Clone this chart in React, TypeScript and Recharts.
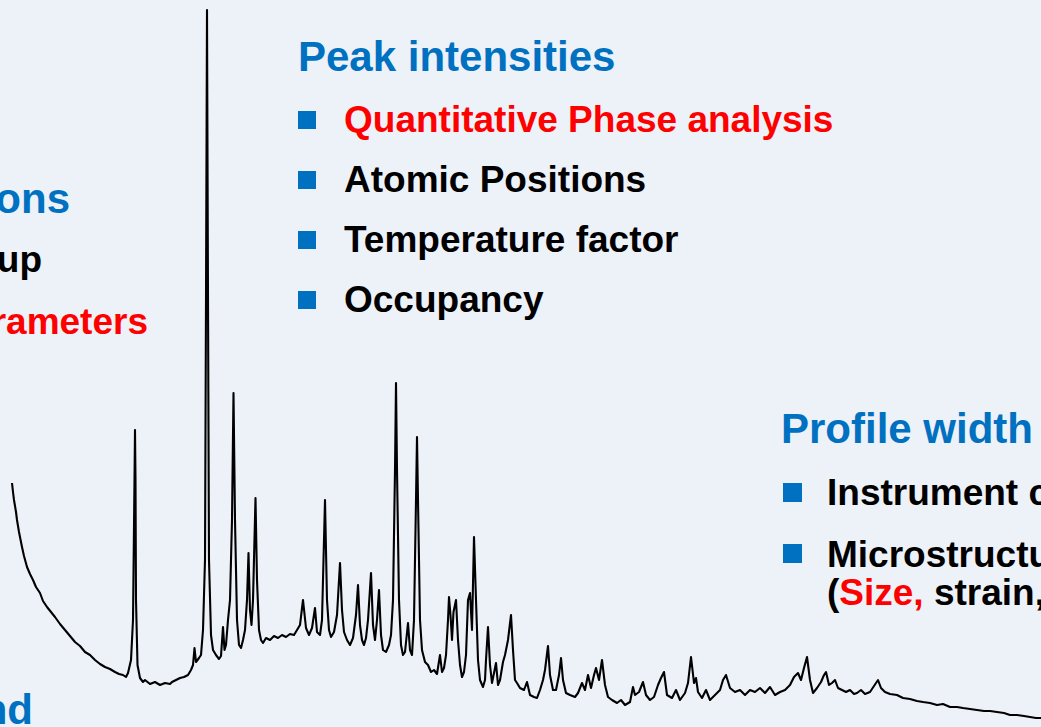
import React from "react";
import { LineChart, Line, XAxis, YAxis } from "recharts";

// Diffraction angle positions (arbitrary horizontal units across the scan)
const scanAngles: number[] = [
  12, 13, 14, 16, 17, 19, 22, 24, 27, 30,
  33, 36, 40, 43, 47, 51, 55, 60, 65, 70,
  75, 80, 85, 90, 95, 100, 105, 110, 115, 119,
  123, 126, 128, 131, 133, 134.5, 135, 135.5, 136, 137.5,
  140, 143, 145, 150, 155, 160, 165, 170, 172, 176,
  180, 184, 188, 191, 193, 194.5, 196, 199, 201, 203,
  205, 206, 207, 208, 209, 211, 213, 216, 219, 221,
  223, 224.5, 226, 228, 230, 232, 233.5, 235, 237, 239,
  241, 243, 245, 247, 248.5, 250, 251.5, 253, 255.5, 257,
  259, 261, 263, 266, 270, 274, 278, 282, 286, 290,
  294, 297, 300, 303, 306, 309, 312, 315, 317, 320,
  322, 325, 327, 329, 331, 334, 337, 340, 342, 344,
  347, 350, 353, 356, 358, 360, 362, 364, 366, 368,
  371, 373, 375, 377, 379, 381, 383, 386, 389, 391,
  393, 395, 396, 397, 399, 401, 403, 405, 408, 410,
  412, 414, 416, 417, 418, 420, 422, 425, 428, 431,
  434, 437, 440, 442, 444, 446, 448, 449, 450.5, 452,
  453.5, 456, 458, 460, 462, 464, 466, 468, 470, 472,
  474, 476, 478, 480, 483, 485, 486, 488, 490, 492,
  494, 496, 498, 500, 503, 505, 508, 511, 513, 515,
  517, 520, 524, 527, 530, 534, 537, 540, 543, 545,
  548, 550, 553, 556, 559, 561, 563, 566, 570, 575,
  578, 582, 585, 588, 591, 594, 596, 599, 602, 605,
  608, 612, 617, 621, 625, 630, 633, 635, 639, 643,
  646, 650, 654, 658, 661, 664, 667, 672, 676, 680,
  685, 688, 691, 694, 696, 698, 702, 706, 710, 715,
  720, 723, 726, 730, 735, 740, 745, 750, 755, 760,
  765, 770, 775, 780, 785, 790, 794, 798, 801, 804,
  807, 810, 813, 817, 821, 824, 826, 829, 832, 835,
  838, 842, 846, 850, 854, 857, 861, 865, 870, 874,
  878, 881, 885, 890, 897, 903, 910, 917, 923, 930,
  937, 943, 950, 957, 963, 970, 977, 984, 990, 997,
  1004, 1010, 1017, 1024, 1030, 1036, 1041,
];

// Measured intensity (arbitrary counts) at each angle
const scanCounts: number[] = [
  244, 235, 227, 215, 207, 195, 180, 171, 160, 153,
  147, 140, 134, 126, 120, 115, 110, 103, 97, 91,
  85, 81, 75, 72, 67, 63, 60, 58, 55, 53,
  52, 50, 54, 67, 107, 247, 297, 247, 127, 62,
  49, 45, 47, 43, 45, 42, 44, 43, 45, 47,
  49, 50, 52, 57, 62, 79, 65, 69, 72, 97,
  167, 427, 717, 427, 167, 92, 77, 72, 68, 71,
  100, 77, 82, 107, 127, 207, 334, 207, 107, 82,
  79, 87, 97, 127, 174, 117, 102, 127, 229, 147,
  97, 87, 84, 89, 87, 91, 89, 92, 90, 93,
  92, 97, 102, 127, 99, 92, 99, 119, 95, 92,
  107, 227, 127, 97, 90, 95, 112, 164, 117, 95,
  87, 82, 89, 112, 142, 102, 87, 82, 89, 107,
  154, 102, 87, 107, 137, 92, 77, 75, 82, 92,
  127, 257, 344, 257, 127, 82, 72, 75, 104, 77,
  72, 107, 227, 290, 227, 107, 77, 65, 62, 55,
  57, 53, 72, 55, 59, 72, 107, 130, 112, 87,
  115, 127, 87, 62, 50, 55, 72, 127, 134, 97,
  190, 127, 67, 47, 40, 47, 67, 100, 62, 44,
  54, 64, 42, 47, 65, 72, 87, 112, 77, 47,
  44, 39, 37, 45, 32, 30, 29, 37, 47, 57,
  81, 52, 37, 37, 52, 69, 47, 34, 32, 30,
  34, 44, 37, 52, 39, 52, 59, 47, 67, 42,
  30, 27, 24, 27, 22, 25, 40, 32, 35, 45,
  32, 27, 30, 42, 49, 55, 32, 29, 37, 27,
  34, 44, 70, 44, 49, 35, 29, 37, 27, 32,
  37, 47, 52, 39, 35, 37, 32, 37, 35, 39,
  34, 40, 32, 35, 37, 42, 50, 54, 47, 59,
  70, 47, 34, 39, 45, 52, 55, 42, 44, 47,
  39, 37, 35, 37, 33, 34, 37, 33, 35, 41,
  47, 39, 35, 33, 32, 29, 28, 26, 25, 24,
  22, 23, 20, 20, 19, 18, 17, 16, 16, 15,
  14, 12, 12, 11, 10, 9, 9,
];

const peakIntensityItems = [
  "Quantitative Phase analysis",
  "Atomic Positions",
  "Temperature factor",
  "Occupancy",
];
const profileWidthItems = ["Instrument contribution", "Microstructure"];

const BLUE = "#0070C0";
const RED = "#FF0000";
const FONT = "'Liberation Sans', Arial, Helvetica, sans-serif";

const data = scanAngles.map((a, i) => ({ angle: a, counts: scanCounts[i] }));

export default function App() {
  return (
    <div
      style={{
        position: "absolute",
        left: 0,
        top: 0,
        width: 1041,
        height: 727,
        overflow: "hidden",
        background: "#edf1f8",
      }}
    >
      <LineChart width={1041} height={727} data={data} margin={{ top: 0, right: 0, bottom: 0, left: 0 }}>
        <XAxis type="number" dataKey="angle" domain={[0, 1041]} hide />
        <YAxis type="number" domain={[0, 727]} hide />
        <Line
          type="linear"
          dataKey="counts"
          stroke="#000"
          strokeWidth={2.1}
          strokeLinejoin="round"
          dot={false}
          isAnimationActive={false}
        />
      </LineChart>
      <svg
        width={1041}
        height={727}
        style={{ position: "absolute", left: 0, top: 0 }}
        fontFamily={FONT}
        fontWeight="bold"
      >
        {/* left column (partially off-canvas, as in the source slide) */}
        <text x={70} y={213} fontSize={42} fill={BLUE} textAnchor="end">Peak positions</text>
        <text x={42} y={272} fontSize={37} fill="#000" textAnchor="end">Space group</text>
        <text x={148} y={334} fontSize={37} fill={RED} textAnchor="end">Lattice parameters</text>
        <text x={33} y={724} fontSize={42} fill={BLUE} textAnchor="end">Background</text>

        {/* Peak intensities block */}
        <text x={298} y={71} fontSize={42} fill={BLUE}>Peak intensities</text>
        {peakIntensityItems.map((t, i) => (
          <g key={t}>
            <rect x={298} y={111 + i * 60} width={18} height={18} fill={BLUE} />
            <text x={344} y={132 + i * 60} fontSize={37} fill={i === 0 ? RED : "#000"}>{t}</text>
          </g>
        ))}

        {/* Profile width block */}
        <text x={781} y={443} fontSize={42} fill={BLUE}>Profile width</text>
        {profileWidthItems.map((t, i) => (
          <g key={t}>
            <rect x={783} y={483 + i * 61} width={19} height={19} fill={BLUE} />
            <text x={827} y={505 + i * 62} fontSize={37} fill="#000">{t}</text>
          </g>
        ))}
        <text x={827} y={605} fontSize={37} fill="#000">
          (<tspan fill={RED}>Size,</tspan> strain, defects)
        </text>
      </svg>
    </div>
  );
}
